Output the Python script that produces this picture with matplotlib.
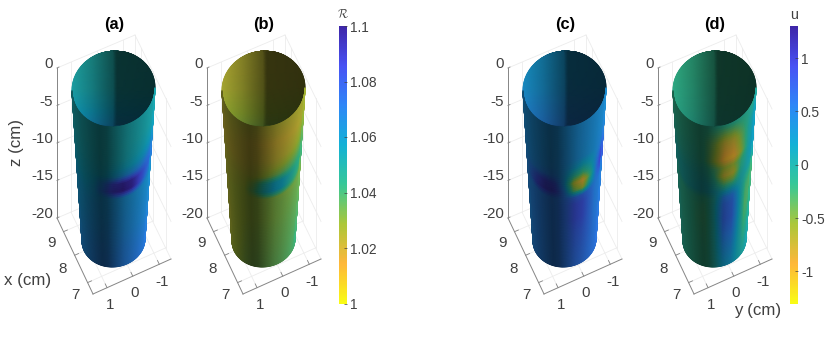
#Four open cylinders coloured by R and u, with two colorbars.
import numpy as np
import matplotlib
matplotlib.use('Agg')
import matplotlib.pyplot as plt
from matplotlib.colors import LinearSegmentedColormap, Normalize
from matplotlib.cm import ScalarMappable

plt.rcParams['font.family'] = ['Liberation Sans', 'DejaVu Sans']
plt.rcParams['mathtext.fontset'] = 'cm'

titles = ['(a)', '(b)', '(c)', '(d)']
z_ticks = [0, -5, -10, -15, -20]
x_ticks = ['9', '8', '7']
y_ticks = ['1', '0', '-1']
r_ticks = [1, 1.02, 1.04, 1.06, 1.08, 1.1]
r_tick_labels = ['1', '1.02', '1.04', '1.06', '1.08', '1.1']
u_ticks = [-1, -0.5, 0, 0.5, 1]
u_tick_labels = ['-1', '-0.5', '0', '0.5', '1']

#surface values: rows are z_rows, columns are theta_cols (left edge to right edge of the front)
theta_cols = [-90, -75, -60, -45, -30, -15, 0, 15, 30, 45, 60, 75, 90]
z_rows = [0, -2, -4, -5, -6, -7, -8, -9, -10, -12, -14, -17, -20]

r_a = [
    [1.052, 1.052, 1.052, 1.052, 1.052, 1.052, 1.052, 1.052, 1.052, 1.052, 1.052, 1.052, 1.052],
    [1.052, 1.052, 1.052, 1.052, 1.052, 1.052, 1.052, 1.052, 1.052, 1.052, 1.052, 1.053, 1.053],
    [1.053, 1.053, 1.053, 1.053, 1.053, 1.053, 1.053, 1.053, 1.054, 1.055, 1.056, 1.057, 1.057],
    [1.054, 1.054, 1.054, 1.054, 1.054, 1.054, 1.055, 1.056, 1.057, 1.059, 1.062, 1.063, 1.062],
    [1.055, 1.055, 1.055, 1.055, 1.055, 1.056, 1.060, 1.065, 1.067, 1.069, 1.072, 1.071, 1.068],
    [1.056, 1.056, 1.056, 1.056, 1.058, 1.070, 1.088, 1.097, 1.096, 1.086, 1.078, 1.074, 1.070],
    [1.058, 1.058, 1.058, 1.058, 1.061, 1.076, 1.092, 1.100, 1.097, 1.084, 1.074, 1.069, 1.066],
    [1.060, 1.060, 1.060, 1.060, 1.062, 1.063, 1.064, 1.064, 1.064, 1.064, 1.063, 1.063, 1.062],
    [1.061, 1.061, 1.061, 1.062, 1.063, 1.063, 1.064, 1.064, 1.064, 1.064, 1.064, 1.063, 1.063],
    [1.062, 1.062, 1.062, 1.063, 1.064, 1.064, 1.065, 1.065, 1.065, 1.065, 1.065, 1.065, 1.065],
    [1.063, 1.063, 1.064, 1.065, 1.065, 1.066, 1.066, 1.066, 1.066, 1.066, 1.066, 1.066, 1.066],
    [1.065, 1.066, 1.066, 1.067, 1.068, 1.068, 1.068, 1.069, 1.069, 1.069, 1.069, 1.069, 1.069],
    [1.066, 1.067, 1.067, 1.068, 1.069, 1.070, 1.070, 1.070, 1.070, 1.071, 1.071, 1.071, 1.071],
]
r_b = [
    [1.025, 1.025, 1.025, 1.025, 1.025, 1.025, 1.024, 1.024, 1.024, 1.024, 1.025, 1.026, 1.027],
    [1.023, 1.023, 1.023, 1.023, 1.022, 1.021, 1.020, 1.020, 1.020, 1.021, 1.022, 1.025, 1.027],
    [1.022, 1.022, 1.022, 1.022, 1.022, 1.022, 1.022, 1.022, 1.023, 1.025, 1.028, 1.031, 1.032],
    [1.023, 1.023, 1.023, 1.023, 1.023, 1.024, 1.025, 1.026, 1.028, 1.031, 1.033, 1.035, 1.036],
    [1.024, 1.024, 1.024, 1.025, 1.025, 1.026, 1.029, 1.033, 1.036, 1.038, 1.040, 1.040, 1.039],
    [1.024, 1.025, 1.025, 1.026, 1.027, 1.034, 1.048, 1.056, 1.056, 1.050, 1.046, 1.043, 1.041],
    [1.025, 1.025, 1.026, 1.027, 1.029, 1.038, 1.052, 1.058, 1.056, 1.048, 1.043, 1.040, 1.038],
    [1.025, 1.026, 1.027, 1.028, 1.029, 1.030, 1.031, 1.032, 1.032, 1.032, 1.033, 1.033, 1.033],
    [1.025, 1.026, 1.027, 1.028, 1.029, 1.030, 1.031, 1.032, 1.033, 1.033, 1.034, 1.034, 1.034],
    [1.025, 1.026, 1.027, 1.028, 1.029, 1.030, 1.031, 1.032, 1.033, 1.034, 1.035, 1.035, 1.035],
    [1.025, 1.026, 1.027, 1.028, 1.030, 1.031, 1.032, 1.033, 1.034, 1.035, 1.036, 1.036, 1.037],
    [1.026, 1.027, 1.028, 1.029, 1.031, 1.032, 1.033, 1.034, 1.035, 1.036, 1.037, 1.038, 1.039],
    [1.027, 1.028, 1.029, 1.030, 1.032, 1.033, 1.034, 1.035, 1.036, 1.037, 1.038, 1.040, 1.042],
]
u_c = [
    [0.38, 0.38, 0.38, 0.38, 0.38, 0.38, 0.38, 0.38, 0.38, 0.38, 0.38, 0.38, 0.38],
    [0.38, 0.38, 0.38, 0.38, 0.38, 0.38, 0.38, 0.38, 0.38, 0.38, 0.38, 0.38, 0.38],
    [0.40, 0.40, 0.40, 0.40, 0.40, 0.40, 0.40, 0.38, 0.36, 0.36, 0.42, 0.45, 0.45],
    [0.40, 0.40, 0.40, 0.42, 0.42, 0.42, 0.38, 0.25, 0.12, 0.22, 0.45, 0.60, 0.55],
    [0.42, 0.42, 0.44, 0.48, 0.55, 0.52, 0.32, -0.10, -0.25, 0.05, 0.55, 0.85, 0.70],
    [0.44, 0.48, 0.60, 0.85, 1.00, 0.85, 0.30, -0.65, -0.90, -0.15, 0.60, 0.95, 0.80],
    [0.45, 0.52, 0.70, 0.95, 1.05, 0.95, 0.50, -0.35, -0.60, 0.10, 0.55, 0.75, 0.60],
    [0.45, 0.48, 0.50, 0.52, 0.55, 0.55, 0.60, 0.70, 0.70, 0.60, 0.50, 0.48, 0.48],
    [0.45, 0.48, 0.50, 0.52, 0.52, 0.55, 0.65, 0.85, 0.85, 0.65, 0.50, 0.50, 0.50],
    [0.45, 0.48, 0.50, 0.52, 0.52, 0.55, 0.65, 0.85, 0.85, 0.65, 0.52, 0.52, 0.52],
    [0.45, 0.48, 0.50, 0.52, 0.52, 0.55, 0.62, 0.75, 0.75, 0.65, 0.55, 0.55, 0.55],
    [0.45, 0.48, 0.50, 0.52, 0.52, 0.55, 0.60, 0.68, 0.68, 0.62, 0.58, 0.58, 0.58],
    [0.45, 0.48, 0.50, 0.52, 0.52, 0.55, 0.58, 0.62, 0.62, 0.60, 0.60, 0.60, 0.60],
]
u_d = [
    [-0.18, -0.18, -0.18, -0.18, -0.18, -0.15, -0.12, -0.12, -0.10, -0.10, -0.10, -0.08, -0.05],
    [-0.15, -0.15, -0.15, -0.15, -0.15, -0.20, -0.45, -0.75, -0.72, -0.35, 0.00, 0.12, 0.15],
    [-0.10, -0.10, -0.10, -0.10, -0.10, -0.20, -0.55, -1.00, -1.00, -0.50, 0.00, 0.18, 0.20],
    [-0.05, -0.05, -0.05, -0.05, -0.05, -0.10, -0.28, -0.55, -0.55, -0.22, 0.05, 0.20, 0.20],
    [0.00, 0.00, 0.00, 0.00, 0.00, -0.03, -0.20, -0.75, -0.70, -0.12, 0.05, 0.15, 0.15],
    [0.00, 0.00, 0.00, 0.00, 0.02, 0.05, -0.05, -0.35, -0.35, 0.00, 0.05, 0.05, 0.05],
    [-0.05, -0.05, 0.00, 0.02, 0.05, 0.05, 0.10, 0.10, 0.15, 0.05, -0.10, -0.15, -0.15],
    [-0.10, -0.12, -0.15, -0.12, -0.15, -0.18, 0.00, 0.55, 0.55, 0.10, -0.22, -0.28, -0.25],
    [-0.10, -0.12, -0.15, -0.15, -0.20, -0.22, 0.05, 0.68, 0.68, 0.15, -0.28, -0.30, -0.25],
    [-0.10, -0.12, -0.15, -0.15, -0.22, -0.24, 0.05, 0.72, 0.70, 0.15, -0.30, -0.28, -0.20],
    [-0.10, -0.12, -0.15, -0.15, -0.20, -0.22, 0.02, 0.60, 0.60, 0.12, -0.25, -0.20, -0.10],
    [-0.10, -0.12, -0.15, -0.15, -0.18, -0.20, 0.00, 0.40, 0.40, 0.10, -0.12, -0.05, 0.00],
    [-0.10, -0.12, -0.15, -0.15, -0.18, -0.18, -0.02, 0.22, 0.25, 0.10, 0.02, 0.05, 0.08],
]

#values seen through the open top, from far rim to near rim
inner_rows = [-1, -0.5, 0, 0.5, 1]
r_a_inner = [1.050, 1.051, 1.052, 1.056, 1.062]
r_b_inner = [1.024, 1.024, 1.025, 1.028, 1.031]
u_c_inner = [0.30, 0.30, 0.33, 0.42, 0.50]
u_d_inner = [-0.18, -0.18, -0.16, -0.14, -0.10]

panels = [r_a, r_b, u_c, u_d]
inners = [r_a_inner, r_b_inner, u_c_inner, u_d_inner]

parula_r = LinearSegmentedColormap.from_list('parula_r', [
    '#f9fb15', '#feb73a', '#abc739', '#37c897', '#12b1d6', '#2e87f7', '#4852f4', '#3e26a8'])
r_norm = Normalize(1, 1.1)
u_norm = Normalize(-1.3, 1.3)
norms = [r_norm, r_norm, u_norm, u_norm]
offsets = [0, 150, 451, 601]
TEXT = '#404040'
GRID = '#ececec'
AXIS = '#858585'

fig = plt.figure(figsize=(8.3, 3.4), dpi=100)
ax = fig.add_axes([0, 0, 1, 1])
ax.set_xlim(0, 830)
ax.set_ylim(340, 0)
ax.axis('off')


def project(theta, z, cx):
    #cylinder (angle, depth) to pixels, narrowing toward the bottom
    w = 1 / (1 + 0.317 * (-z / 20))
    x = cx + 41.5 * w * np.sin(np.radians(theta))
    y = 715 - 626 * w + 38 * w ** 1.2 * np.cos(np.radians(theta))
    return x, y - 0.035 * (x - cx)


def floor(fx, fy, dx):
    #fx runs from the z axis toward the x=7 corner, fy along the y axis
    a, b, c, d = np.array([57., 218]), np.array([93., 294]), np.array([171., 259]), np.array([135., 185])
    p = (1 - fx) * ((1 - fy) * a + fy * d) + fx * ((1 - fy) * b + fy * c)
    return p + [dx, 0]


def line(p, q, **kw):
    ax.plot([p[0], q[0]], [p[1], q[1]], zorder=1, **kw)


def draw_box(dx):
    up = np.array([0, -150.])
    fx_ticks = [0.18, 0.49, 0.85]
    fy_ticks = [0.18, 0.51, 0.85]
    for f in fx_ticks:
        p, q = floor(f, 0, dx), floor(f, 1, dx)
        line(p, q, color=GRID, lw=0.6)
        line(q, q + up, color=GRID, lw=0.6)
        line(p, p + (q - p) * 0.05, color=AXIS, lw=0.6)
    for f in fy_ticks:
        p, q = floor(0, f, dx), floor(1, f, dx)
        line(p, q, color=GRID, lw=0.6)
        line(p, p + up, color=GRID, lw=0.6)
        line(q, q + (p - q) * 0.05, color=AXIS, lw=0.6)
    a, b, c, d = floor(0, 0, dx), floor(1, 0, dx), floor(1, 1, dx), floor(0, 1, dx)
    line(d, d + up, color=GRID, lw=0.6)
    for z in z_ticks:
        lift = np.array([0, (z + 20) * -7.5])
        line(a + lift, d + lift, color=GRID, lw=0.6)
        line(d + lift, c + lift, color=GRID, lw=0.6)
        line(a + lift, a + lift + [2, -1], color=AXIS, lw=0.6)
        ax.text(a[0] - 4, a[1] + lift[1] - 4, str(z), ha='right', va='center',
                fontsize=10.9, color=TEXT)
    line(a, a + up, color=AXIS, lw=0.7)
    line(a, b, color=AXIS, lw=0.7)
    line(b, c, color=AXIS, lw=0.7)
    for label, x, y in zip(x_ticks, [51, 63, 75], [243, 269, 295]):
        ax.text(x + dx, y, label, ha='center', va='center', fontsize=10.9, color=TEXT)
    for label, x, y in zip(y_ticks, [110, 135, 162], [305, 293, 282]):
        ax.text(x + dx, y, label, ha='center', va='center', fontsize=10.9, color=TEXT)


def surface_colors(values, theta_f, z_f):
    #drawing mesh only: carries the read grid over to the fine vertices of the curved wall
    grid = np.array(values)
    depth = -np.array(z_rows, dtype=float)
    by_col = np.array([np.interp(-z_f, depth, grid[:, j]) for j in range(grid.shape[1])])
    return np.array([np.interp(theta_f, theta_cols, by_col[:, i]) for i in range(len(z_f))])


def draw_cylinder(values, inner, norm, dx):
    cx = 113.5 + dx
    #inside of the far wall, seen through the top
    u, v = np.meshgrid(np.linspace(-1, 1, 81), np.linspace(-0.9999, 0.9999, 61))
    x = cx + 41.5 * u * np.sqrt(1 - v ** 2)
    y = 89 + 38 * v - 0.035 * (x - cx)
    level = np.interp((x - cx) / 41.5, [-1, -0.5, 0, 0.05, 0.1, 1], [0.85, 0.66, 0.42, 0.33, 0.27, 0.25])
    rgb = parula_r(norm(np.interp(v, inner_rows, inner)))[..., :3] * level[..., None]
    ax.pcolormesh(x, y, rgb, shading='gouraud', zorder=2)
    #outside of the near wall
    theta_f = np.linspace(-90, 90, 121)
    z_f = np.linspace(0, -20, 81)
    t, z = np.meshgrid(theta_f, z_f)
    x, y = project(t, z, cx)
    level = np.interp(t, [-90, -60, -40, -20, -10, 0, 20, 40, 60, 90],
                      [0.5, 0.45, 0.38, 0.3, 0.33, 0.42, 0.6, 0.72, 0.82, 0.92])
    rgb = parula_r(norm(surface_colors(values, theta_f, z_f)))[..., :3] * level[..., None]
    ax.pcolormesh(x, y, rgb, shading='gouraud', zorder=2)


for i in range(4):
    draw_box(offsets[i])
    draw_cylinder(panels[i], inners[i], norms[i], offsets[i])
    ax.text(114 + offsets[i], 25, titles[i], ha='center', va='center',
            fontsize=11.8, fontweight='bold', color='black')

ax.text(16.5, 142, 'z (cm)', rotation=90, ha='center', va='center', fontsize=12.2, color=TEXT)
ax.text(28, 281, 'x (cm)', ha='center', va='center', fontsize=12.2, color=TEXT)
ax.text(758, 310, 'y (cm)', ha='center', va='center', fontsize=12.2, color=TEXT)


def add_colorbar(left, norm, ticks, labels, name, size):
    cax = fig.add_axes([left / 830, 1 - 303.5 / 340, 7.5 / 830, 277.5 / 340])
    cb = fig.colorbar(ScalarMappable(norm=norm, cmap=parula_r), cax=cax)
    cb.set_ticks(ticks)
    cb.set_ticklabels(labels)
    cb.ax.tick_params(direction='in', length=2, width=0.5, color='#404040', pad=2.5,
                      labelsize=9.9, labelcolor=TEXT)
    cb.outline.set_visible(False)
    ax.text(left + 4, 15, name, ha='center', va='center', fontsize=size, color=TEXT)


add_colorbar(339, r_norm, r_ticks, r_tick_labels, r'$\mathcal{R}$', 8.5)
add_colorbar(790, u_norm, u_ticks, u_tick_labels, 'u', 10.3)

fig.savefig('out.png', dpi=100)
